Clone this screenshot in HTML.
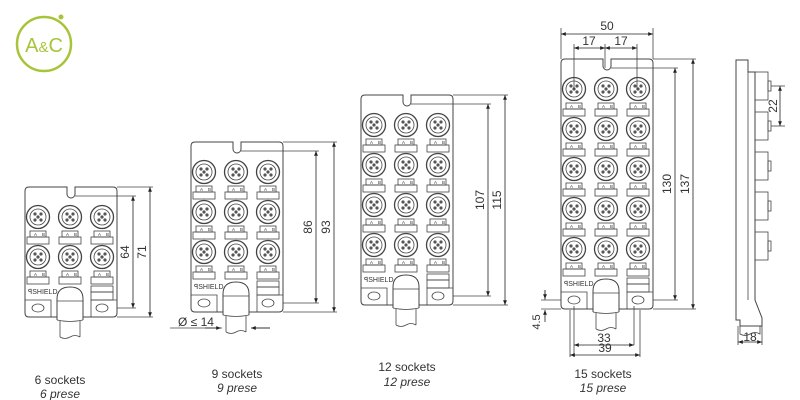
<!DOCTYPE html>
<html><head><meta charset="utf-8"><style>
body{margin:0;background:#fff;width:800px;height:400px;overflow:hidden}
svg{display:block}
text{font-family:"Liberation Sans",sans-serif;fill:#333}
</style></head><body>
<svg id="s" width="800" height="400" viewBox="0 0 800 400" xmlns="http://www.w3.org/2000/svg">
<defs>
<marker id="a" viewBox="0 0 10 10" refX="10" refY="5" markerWidth="6" markerHeight="6" orient="auto-start-reverse"><path d="M0,1L10,5L0,9z" fill="#222"/></marker>
</defs>
<circle cx="44" cy="44" r="27" fill="none" stroke="#a8c43a" stroke-width="2.5"/>
<circle cx="61" cy="17" r="2.5" fill="#a8c43a"/>
<text x="44" y="52" font-size="20" text-anchor="middle" style="fill:#a8c43a">A<tspan font-size="15">&amp;</tspan>C</text>
<g id="g" fill="none" stroke="#444" stroke-width="0.8"></g>
<g font-size="12">
<text x="60" y="384" text-anchor="middle">6 sockets</text>
<text x="60" y="398" text-anchor="middle" font-style="italic">6 prese</text>
<text x="237" y="378" text-anchor="middle">9 sockets</text>
<text x="237" y="392" text-anchor="middle" font-style="italic">9 prese</text>
<text x="407" y="371" text-anchor="middle">12 sockets</text>
<text x="407" y="386" text-anchor="middle" font-style="italic">12 prese</text>
<text x="603" y="378" text-anchor="middle">15 sockets</text>
<text x="603" y="392" text-anchor="middle" font-style="italic">15 prese</text>
</g>
</svg>
<script>
const g=document.getElementById('g');let h='';
function L(x1,y1,x2,y2,arr){h+=`<line x1="${x1}" y1="${y1}" x2="${x2}" y2="${y2}"${arr?' marker-start="url(#a)" marker-end="url(#a)" stroke="#222"':''}/>`}
function T(x,y,t,rot,fs){h+=`<text x="${x}" y="${y}" font-size="${fs||11}" text-anchor="middle" stroke="none" ${rot?`transform="rotate(-90 ${x} ${y})"`:''}>${t}</text>`}
function box(l,t,rows,d1,d2,l1,l2){
 const r=l+92,b=t+30+40*(rows-1)+60,cx=[l+13,l+45,l+77];
 h+=`<path d="M${l+4},${t}H${l+42}V${t+7}a4,4 0 0 0 8,0V${t}H${r-4}q4,0 4,4V${b-4}q0,4 -4,4H${l+4}q-4,0 -4,-4V${t+4}q0,-4 4,-4z" stroke-width="1"/>`;
 for(let i=0;i<rows;i++){const y=t+30+40*i;for(const x of cx){
  h+=`<circle cx="${x}" cy="${y}" r="11.5" stroke-width="1.3"/><circle cx="${x}" cy="${y}" r="8"/>`;
  for(const[dx,dy]of[[-3,-3],[3,-3],[-3,3],[3,3],[0,0]])h+=`<circle cx="${x+dx}" cy="${y+dy}" r="1.6" fill="#555" stroke="none"/>`;
  h+=`<rect x="${x-8}" y="${y+14}" width="16" height="6"/><rect x="${x-11}" y="${y+20}" width="22" height="7"/>`;
  h+=`<text x="${x-4}" y="${y+19}" font-size="4.5" stroke="none">A</text><text x="${x+4}" y="${y+19}" font-size="4.5" stroke="none">B</text>`;
 }}
 h+=`<rect x="${cx[2]-11}" y="${b-31}" width="22" height="6"/><rect x="${cx[2]-11}" y="${b-25}" width="22" height="8"/>`;
 h+=`<text x="${l+3}" y="${b-23}" font-size="7" stroke="none" text-anchor="start">ꟼSHIELD</text>`;
 h+=`<path d="M${l},${b-17}H${l+26}V${b}M${r},${b-17}H${r-26}V${b}"/>`;
 h+=`<ellipse cx="${cx[0]}" cy="${b-9}" rx="6" ry="4"/><ellipse cx="${cx[2]}" cy="${b-9}" rx="6" ry="4"/>`;
 const c=cx[1];
 h+=`<path d="M${c-13},${b+3}V${b-18}q0,-12 13,-12q13,0 13,12V${b+3}" fill="#fff" stroke-width="1"/><line x1="${c-13}" y1="${b-16}" x2="${c+13}" y2="${b-16}"/>`;
 h+=`<path d="M${c-13},${b+3}Q${c},${b+6} ${c+13},${b+3}"/><path d="M${c-10},${b+4}V${b+20}M${c+10},${b+4}V${b+20}M${c-10},${b+20}q5,3 10,0q5,-3 10,0"/>`;
 L(l+50,t+9,d1+3,t+9);L(r,b-9,d1+3,b-9);L(r,t,d2+3,t);L(r,b,d2+3,b);
 L(d1,t+9,d1,b-9,1);L(d2,t,d2,b,1);
 T(d1-4,(t+b)/2,l1,1,12);T(d2-4,(t+b)/2,l2,1,12);
}
box(25,187,2,133,150,'64','71');
box(191,142,3,316,334,'86','93');
box(361,95,4,488,505,'107','115');
box(561,59,5,675,693,'130','137');
L(170,328,222,328);L(270,328,255,328);
h+=`<line x1="205" y1="328" x2="221" y2="328" marker-end="url(#a)" stroke="#222"/><line x1="270" y1="328" x2="251" y2="328" marker-end="url(#a)" stroke="#222"/>`;
h+=`<text x="178" y="326" font-size="12" stroke="none" text-anchor="start">Ø ≤ 14</text>`;
L(561,59,561,28);L(653,59,653,28);L(561,34,653,34,1);T(607,30,'50',0,12);
L(574,90,574,44);L(605,68,605,44);L(637,90,637,44);L(574,48,605,48,1);L(605,48,637,48,1);T(589,45,'17',0,12);T(621,45,'17',0,12);
L(574,306,574,357);L(634,306,634,345);L(570,310,570,357);L(640,310,640,357);
L(574,345,634,345,1);T(604,342,'33',0,12);L(570,355,640,355,1);T(605,352,'39',0,12);
L(541,300,561,300);L(541,309,561,309);L(545,290,545,300);h+=`<line x1="545" y1="290" x2="545" y2="299" marker-end="url(#a)" stroke="#222"/><line x1="545" y1="322" x2="545" y2="310" marker-end="url(#a)" stroke="#222"/>`;T(540,322,'4.5',1,11);
h+=`<path d="M736,60H748V72H755V300L762,318V326H740V320H736Z" stroke-width="1"/><line x1="748" y1="72" x2="748" y2="300"/>`;
for(let i=0;i<5;i++){const y=86+40*i;h+=`<rect x="755" y="${y-14}" width="13" height="28"/><rect x="768" y="${y-5}" width="3" height="10"/>`}
h+=`<path d="M740,326V334q5,3 10,0q5,-3 10,0V326M738,326V345M762,326V345"/>`;
L(738,342,762,342,1);T(750,341,'18',0,12);
L(771,86,785,86);L(771,126,785,126);L(780,86,780,126,1);T(777,106,'22',1,12);
g.innerHTML=h;
</script>
</body></html>
